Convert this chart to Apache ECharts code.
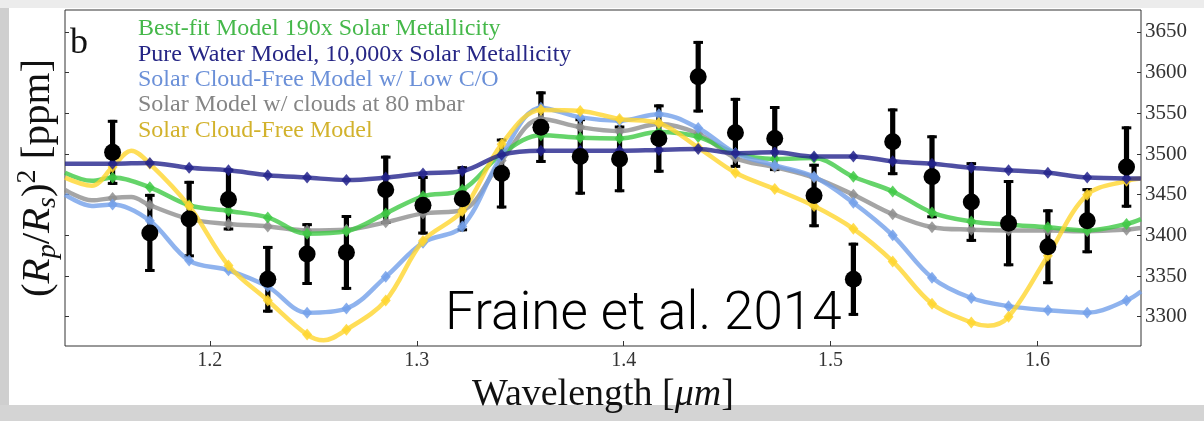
<!DOCTYPE html>
<html><head><meta charset="utf-8">
<script src="https://cdn.jsdelivr.net/npm/echarts@6/dist/echarts.min.js"></script>
<style>html,body{margin:0;padding:0;background:#fff}#c{width:1204px;height:421px}</style>
</head><body><div id="c"></div>
<script>
// ---- data ----
const wavelengths = [1.153, 1.171, 1.190, 1.209, 1.228, 1.247, 1.266, 1.285, 1.303, 1.322, 1.341, 1.360, 1.379, 1.398, 1.417, 1.436, 1.454, 1.473, 1.492, 1.511, 1.530, 1.549, 1.568, 1.586, 1.605, 1.624, 1.643];
const depth    = [3502, 3403, 3420, 3444, 3346, 3377, 3379, 3456, 3437, 3445, 3476, 3533, 3497, 3494, 3519, 3595, 3526, 3519, 3449, 3346, 3515, 3472, 3441, 3415, 3386, 3418, 3484];
const depthErr = [40, 48, 47, 38, 41, 38, 46, 42, 36, 40, 43, 44, 47, 41, 42, 44, 43, 40, 39, 45, 41, 51, 49, 53, 46, 40, 50];

const bestFit   = [3471, 3459, 3437, 3430, 3422, 3402, 3405, 3427, 3448, 3456, 3500, 3523, 3520, 3519, 3527, 3521, 3501, 3494, 3495, 3472, 3454, 3428, 3417, 3413, 3410, 3406, 3414];
const pureWater = [3488, 3489, 3483, 3480, 3474, 3471, 3468, 3471, 3476, 3479, 3499, 3504, 3504, 3504, 3505, 3506, 3501, 3502, 3497, 3497, 3491, 3488, 3483, 3480, 3477, 3471, 3470];
const lowCO     = [3438, 3418, 3369, 3357, 3337, 3305, 3310, 3349, 3391, 3411, 3498, 3557, 3545, 3541, 3549, 3532, 3501, 3486, 3472, 3440, 3400, 3348, 3323, 3313, 3308, 3305, 3320];
const clouds80  = [3446, 3437, 3420, 3414, 3411, 3406, 3407, 3416, 3427, 3431, 3492, 3543, 3533, 3528, 3537, 3525, 3495, 3484, 3471, 3450, 3426, 3410, 3407, 3406, 3406, 3405, 3407];
const cloudFree = [3484, 3488, 3436, 3363, 3320, 3278, 3284, 3320, 3393, 3430, 3512, 3554, 3553, 3543, 3538, 3508, 3477, 3457, 3436, 3408, 3368, 3316, 3293, 3300, 3375, 3450, 3467];

// extra samples of the high-resolution model curves (between / outside the bins)
const bestFitExtra   = [[1.130, 3477], [1.143, 3467], [1.650, 3420]];
const pureWaterExtra = [[1.130, 3488], [1.650, 3470]];
const lowCOExtra     = [[1.130, 3450], [1.143, 3436], [1.650, 3331]];
const clouds80Extra  = [[1.130, 3456], [1.143, 3443], [1.162, 3447], [1.650, 3409]];
const cloudFreeExtra = [[1.130, 3471], [1.143, 3461], [1.162, 3504], [1.255, 3271], [1.576, 3289], [1.650, 3470]];

const modelNames = [
  'Best-fit Model 190x Solar Metallicity',
  'Pure Water Model, 10,000x Solar Metallicity',
  'Solar Cloud-Free Model w/ Low C/O',
  'Solar Model w/ clouds at 80 mbar',
  'Solar Cloud-Free Model'
];
const xTicks = [1.2, 1.3, 1.4, 1.5, 1.6];
const yTicks = [3300, 3350, 3400, 3450, 3500, 3550, 3600, 3650];

// ---- chart ----
const lineColors = ['#3fc945', '#23238c', '#73a0ea', '#8e8e8e', '#ffd62e'];
const textColors = ['#45b84a', '#262685', '#6b90d8', '#858585', '#d2b22c'];
const modelBins = [bestFit, pureWater, lowCO, clouds80, cloudFree];
const modelExtras = [bestFitExtra, pureWaterExtra, lowCOExtra, clouds80Extra, cloudFreeExtra];
const zOrder = [3, 6, 4, 2, 5];

const series = [];
series.push({
  type: 'custom', name: 'data-err', z: 1, silent: true,
  data: wavelengths.map((w, i) => [w, depth[i], depthErr[i]]),
  encode: { x: 0, y: 1 },
  renderItem: function (params, api) {
    const x = api.value(0), y = api.value(1), e = api.value(2);
    const t = api.coord([x, y + e]), b = api.coord([x, y - e]);
    const fill = { fill: '#000' };
    return { type: 'group', children: [
      { type: 'rect', shape: { x: t[0] - 2.6, y: t[1], width: 5.2, height: b[1] - t[1] }, style: fill },
      { type: 'rect', shape: { x: t[0] - 4.8, y: t[1], width: 9.6, height: 3 }, style: fill },
      { type: 'rect', shape: { x: b[0] - 4.8, y: b[1] - 3, width: 9.6, height: 3 }, style: fill }
    ]};
  }
});
modelNames.forEach((name, m) => {
  const curve = wavelengths.map((w, i) => [w, modelBins[m][i]]).concat(modelExtras[m]).sort((a, b) => a[0] - b[0]);
  series.push({
    type: 'line', name: name, data: curve, smooth: 0.35, showSymbol: false, z: 10 + zOrder[m], silent: true,
    lineStyle: { color: lineColors[m], width: 4.5, opacity: 0.8 }, itemStyle: { color: lineColors[m] }
  });
  series.push({
    type: 'scatter', name: name, data: wavelengths.map((w, i) => [w, modelBins[m][i]]),
    symbol: 'diamond', symbolSize: [10, 12], z: 10 + zOrder[m], silent: true,
    itemStyle: { color: lineColors[m], opacity: 0.85 }
  });
});
series.push({
  type: 'scatter', name: 'data', z: 30, silent: true,
  data: wavelengths.map((w, i) => [w, depth[i]]),
  symbol: 'circle', symbolSize: 17, itemStyle: { color: '#000', opacity: 1 }
});

const serif = 'Liberation Serif';
const chart = echarts.init(document.getElementById('c'), null, { renderer: 'canvas' });
chart.setOption({
  animation: false,
  backgroundColor: '#ffffff',
  grid: { left: 65, right: 63, top: 10, bottom: 75, show: true, borderColor: '#333', borderWidth: 1, backgroundColor: 'transparent' },
  legend: {
    orient: 'vertical', left: 128, top: 11.5, itemWidth: 0, itemHeight: 0, itemGap: 0.4, selectedMode: false,
    itemStyle: { opacity: 0 }, lineStyle: { opacity: 0 },
    textStyle: { fontFamily: serif, fontSize: 24, lineHeight: 25 },
    data: modelNames.map((n, i) => ({ name: n, icon: 'rect', textStyle: { color: textColors[i] } }))
  },
  xAxis: {
    type: 'value', min: 1.13, max: 1.65,
    name: 'Wavelength [{i|μm}]', nameLocation: 'middle', nameGap: 23,
    nameTextStyle: { fontFamily: serif, fontSize: 38, color: '#111', rich: { i: { fontFamily: serif, fontStyle: 'italic', fontSize: 38, color: '#111' } } },
    axisLine: { show: false },
    axisTick: { show: true, inside: true, length: 5, customValues: xTicks, lineStyle: { color: '#333' } },
    axisLabel: { customValues: xTicks, fontFamily: serif, fontSize: 20, color: '#333', margin: 5, formatter: v => v.toFixed(1) },
    splitLine: { show: false }
  },
  yAxis: [
    {
      type: 'value', position: 'right', min: 3264, max: 3677,
      axisLine: { show: false },
      axisTick: { show: true, inside: true, length: 4, customValues: yTicks, lineStyle: { color: '#333' } },
      axisLabel: { customValues: yTicks, fontFamily: serif, fontSize: 21, color: '#333', margin: 4, formatter: v => String(Math.round(v)) },
      splitLine: { show: false }
    },
    {
      type: 'value', position: 'left', min: 3264, max: 3677,
      name: '({i|R}{sub|p}/{i|R}{sub|s}){sup|2} [ppm]', nameLocation: 'middle', nameRotate: 90, nameGap: 3,
      nameTextStyle: {
        fontFamily: serif, fontSize: 41, color: '#111', lineHeight: 48,
        rich: {
          i: { fontFamily: serif, fontStyle: 'italic', fontSize: 41, color: '#111', lineHeight: 48 },
          sub: { fontFamily: serif, fontStyle: 'italic', fontSize: 28, color: '#111', lineHeight: 22, verticalAlign: 'bottom' },
          sup: { fontFamily: serif, fontSize: 28, color: '#111', lineHeight: 22, verticalAlign: 'top' }
        }
      },
      axisLine: { show: false },
      axisTick: { show: true, inside: true, length: 4, customValues: yTicks, lineStyle: { color: '#333' } },
      axisLabel: { show: false },
      splitLine: { show: false }
    }
  ],
  graphic: [
    { type: 'rect', left: 0, top: 0, z: -10, shape: { width: 9, height: 421 }, style: { fill: '#cfcfcf' } },
    { type: 'rect', left: 0, top: 405, z: -10, shape: { width: 1204, height: 16 }, style: { fill: '#d4d4d4' } },
    { type: 'rect', left: 0, top: 0, z: -10, shape: { width: 1204, height: 8 }, style: { fill: '#ececec' } },
    { type: 'text', left: 70, top: 26, z: 50, style: { text: 'b', font: '36px "Liberation Serif"', fill: '#111' } },
    { type: 'text', left: 445, top: 289, z: 50, style: { text: 'Fraine et al. 2014', font: '300 53px Roboto', fill: '#000' } }
  ],
  series: series
});
</script></body></html>
